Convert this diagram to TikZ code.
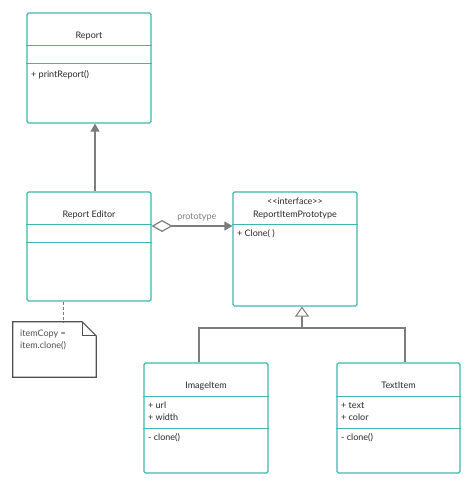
\documentclass[tikz,border=0pt]{standalone}
\usepackage{fontspec}
\setmainfont{Lato}
\usetikzlibrary{arrows.meta}

\definecolor{umlteal}{RGB}{60,184,178}
\definecolor{umlline}{RGB}{125,125,125}
\definecolor{umltext}{RGB}{40,40,40}
\definecolor{notegray}{RGB}{80,80,80}

\tikzset{
	classbox/.style={draw=umlteal, line width=1.2pt, rounded corners=1.5pt, fill=white, minimum width=124pt, inner sep=0pt},
	divider/.style={umlteal, line width=1pt},
	title/.style={font=\fontsize{9}{11}\selectfont, text=umltext, anchor=mid, inner sep=0pt},
	member/.style={font=\fontsize{9}{11}\selectfont, text=umltext, anchor=mid west, inner sep=0pt},
	link/.style={umlline, line width=1.2pt},
	assoc/.style={link, {Diamond[open, length=21pt, width=12pt, line width=1.2pt, fill=white]}-{Triangle[length=8pt, width=9pt]}},
	inherit/.style={link, -{Triangle[open, length=10pt, width=14pt, line width=1pt, fill=white]}},
	uses/.style={link, -{Triangle[length=8pt, width=9pt]}},
	notebox/.style={minimum width=83pt, minimum height=55pt, inner sep=0pt},
	noteline/.style={notegray, line width=1.2pt},
}

\begin{document}
\begin{tikzpicture}[x=1pt, y=-1pt]
	\useasboundingbox (0,0) rectangle (474,487);

	% classes
	\node[classbox, minimum height=110pt] (report) at (89,68) {};
	\draw[divider] (report.west |- 0,46) -- (report.east |- 0,46);
	\draw[divider] (report.west |- 0,64) -- (report.east |- 0,64);
	\node[title] (report-name) at (89,36) {Report};
	\node[member] (report-op) at (31,75) {+ printReport()};

	\node[classbox, minimum height=109pt] (editor) at (89,246.5) {};
	\draw[divider] (editor.west |- 0,224) -- (editor.east |- 0,224);
	\draw[divider] (editor.west |- 0,242) -- (editor.east |- 0,242);
	\node[title] (editor-name) at (89,215) {Report Editor};

	\node[classbox, minimum height=114pt] (proto) at (295,249) {};
	\draw[divider] (proto.west |- 0,224) -- (proto.east |- 0,224);
	\node[title] (proto-stereo) at (295,202) {<{}<interface>{}>};
	\node[title] (proto-name) at (295,215) {ReportItemPrototype};
	\node[member] (proto-op) at (237,234) {+ Clone( )};

	\node[classbox, minimum height=110pt] (image) at (206,418) {};
	\draw[divider] (image.west |- 0,396) -- (image.east |- 0,396);
	\draw[divider] (image.west |- 0,428) -- (image.east |- 0,428);
	\node[title] (image-name) at (206,386) {ImageItem};
	\node[member] (image-url) at (148,406) {+ url};
	\node[member] (image-width) at (148,418) {+ width};
	\node[member] (image-op) at (148,438) {- clone()};

	\node[classbox, minimum height=110pt, minimum width=123pt] (text) at (398.5,418) {};
	\draw[divider] (text.west |- 0,396) -- (text.east |- 0,396);
	\draw[divider] (text.west |- 0,428) -- (text.east |- 0,428);
	\node[title] (text-name) at (398.5,386) {TextItem};
	\node[member] (text-text) at (341,406) {+ text};
	\node[member] (text-color) at (341,418) {+ color};
	\node[member] (text-op) at (341,438) {- clone()};

	% note
	\node[notebox] (note) at (54.5,349.5) {};
	\draw[noteline, fill=white] (note.north west) -- ([xshift=-14pt]note.north east) -- ([yshift=-14pt]note.north east) -- (note.south east) -- (note.south west) -- cycle;
	\draw[noteline] ([xshift=-14pt]note.north east) -- ([xshift=-14pt, yshift=-14pt]note.north east) -- ([yshift=-14pt]note.north east);
	\node[member, text=notegray] (note-line1) at (20,334) {itemCopy =};
	\node[member, text=notegray] (note-line2) at (20,346) {item.clone()};
	\draw[link, dash pattern=on 3pt off 2pt, line width=1pt] ([xshift=-26pt]editor.south) -- ([xshift=-26pt]editor.south |- note.north);

	% connectors
	\draw[uses] ([xshift=6pt]editor.north) -- ([xshift=6pt]report.south);
	\draw[assoc] ([yshift=20.5pt]editor.east) -- ([yshift=20.5pt]editor.east -| proto.west)
		node[pos=0.56, above=1pt, font=\fontsize{9}{11}\selectfont, text=umlline] (assoc-label) {prototype};
	\coordinate (split) at (302,328);
	\draw[inherit] (split) -- (split |- proto.south);
	\draw[link] ([xshift=-7pt]image.north) |- (split) -| ([xshift=6.5pt]text.north);
\end{tikzpicture}
\end{document}
